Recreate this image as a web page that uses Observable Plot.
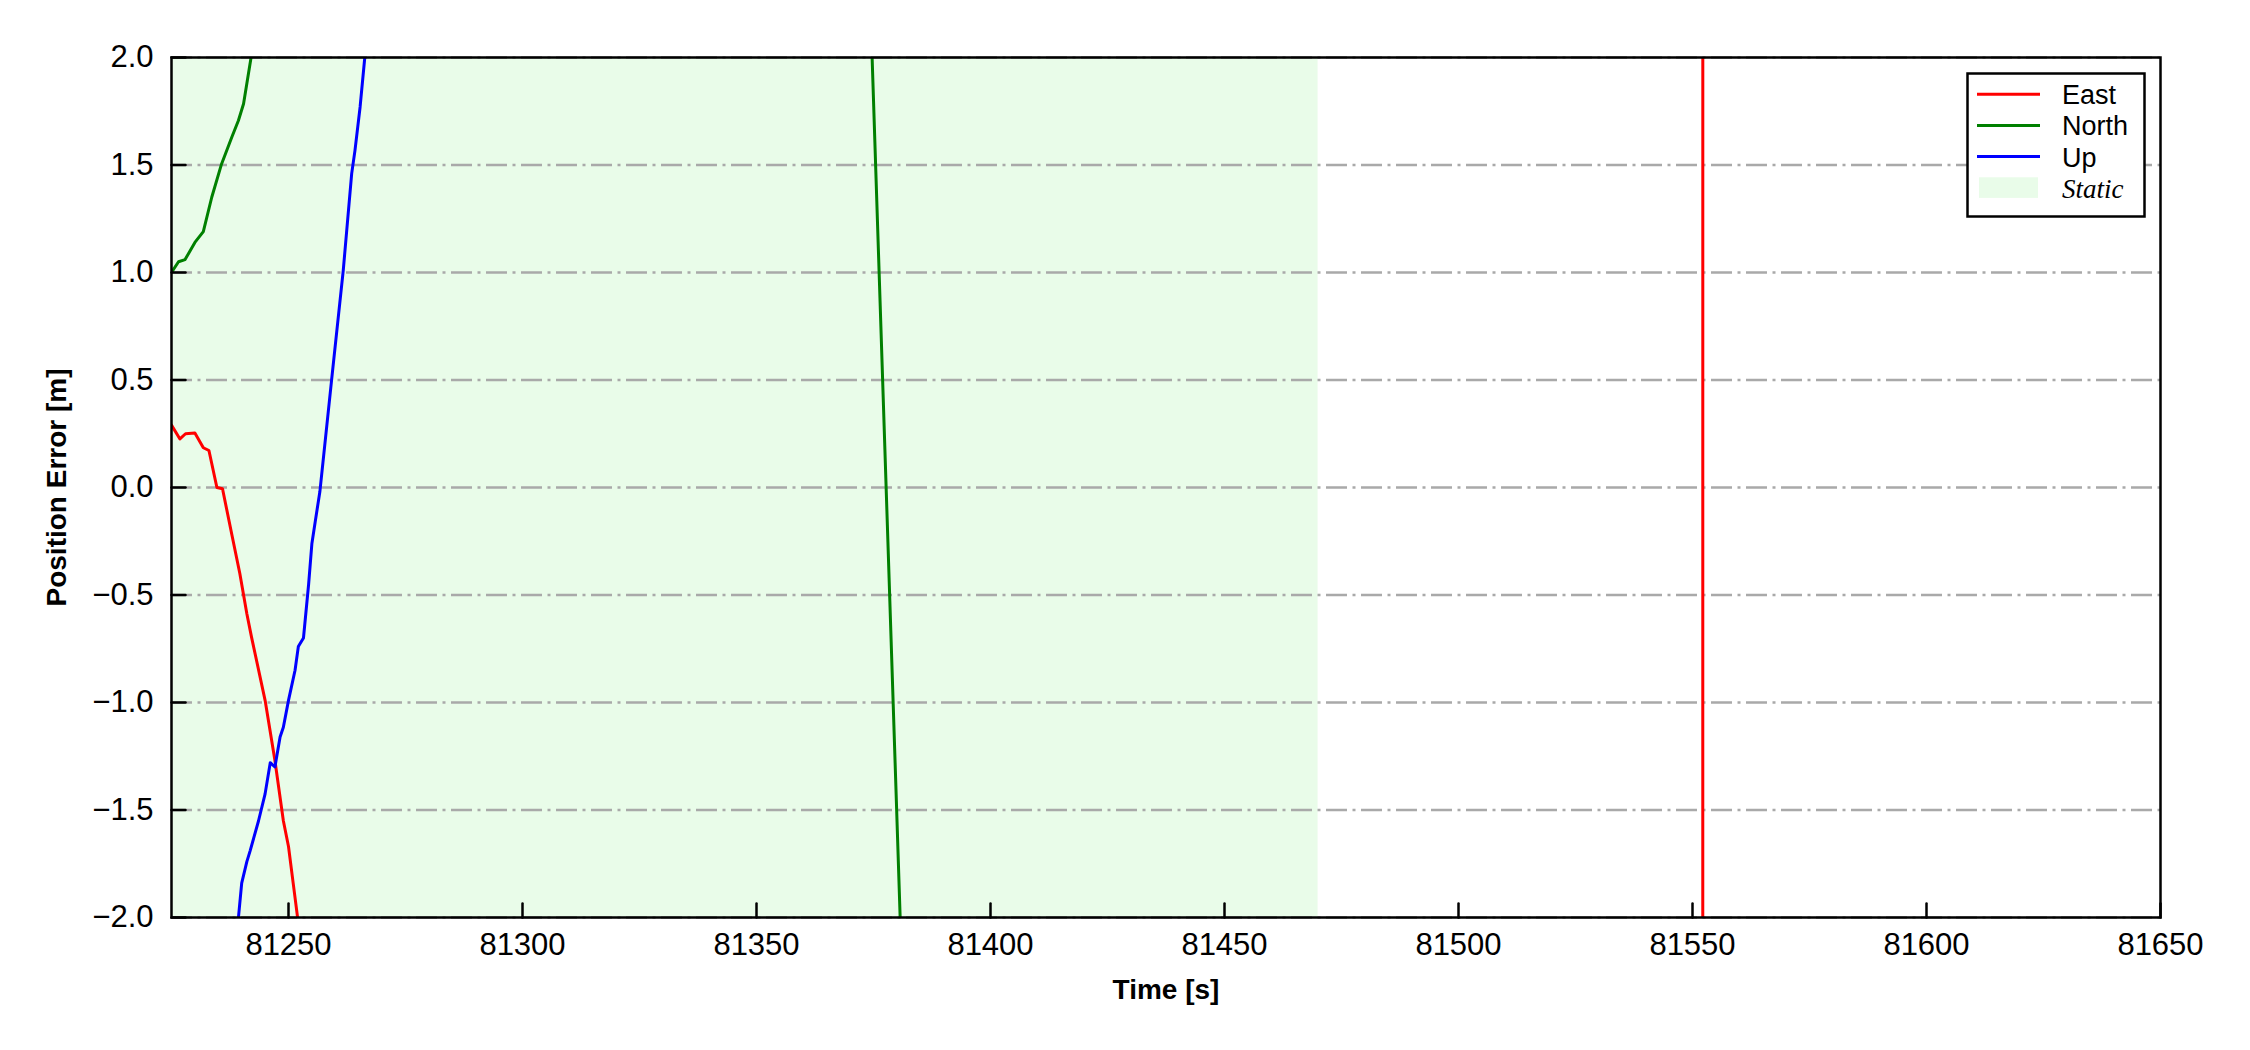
<!DOCTYPE html>
<html><head><meta charset="utf-8">
<script src="https://cdn.jsdelivr.net/npm/d3@7"></script>
<script src="https://cdn.jsdelivr.net/npm/@observablehq/plot@0.6"></script>
<style>
body{margin:0;background:#fff;}
#wrap{position:relative;width:2250px;height:1050px;overflow:hidden;}
#wrap svg{display:block;}
</style></head>
<body><div id="wrap"></div>
<script>
// ---- data ----
const seriesNames = ["East", "North", "Up"];
const seriesColors = ["#ff0000", "#008000", "#0000ff"];

const eastTime  = [81225, 81226.8, 81228, 81230, 81231.8, 81233, 81234.7, 81235.9, 81237.9, 81239.6, 81241.1, 81242.1, 81245, 81247.1, 81248.9, 81250, 81251, 81252, 81256, 81270, 81320, 81400, 81480, 81551.7, 81552.7, 81580, 81620, 81650];
const eastValue = [0.29, 0.226, 0.25, 0.253, 0.185, 0.172, 0.0, -0.006, -0.22, -0.40, -0.587, -0.696, -0.99, -1.27, -1.55, -1.67, -1.84, -2.01, -2.6, -4.1, -9, -20, -45, -300, 300, 260, 230, 210];

const northTime  = [81225, 81226.5, 81227.9, 81230, 81231.8, 81233.6, 81235.7, 81237.9, 81239.3, 81240.4, 81242, 81245, 81260, 81300, 81340, 81365, 81370, 81374, 81378, 81382, 81390, 81420, 81500, 81580, 81650];
const northValue = [1.0, 1.05, 1.06, 1.14, 1.19, 1.35, 1.505, 1.63, 1.707, 1.785, 2.0, 2.5, 4, 7, 8.5, 7.5, 5.13, 2.47, -0.2, -2.87, -7, -15, -30, -38, -42];

const upTime  = [81225, 81232, 81236, 81238, 81240, 81241.1, 81241.8, 81243.6, 81245, 81246.1, 81247.1, 81248.2, 81248.9, 81250, 81251.4, 81252.1, 81253.2, 81254.3, 81255, 81255.7, 81256.7, 81259.2, 81261.7, 81263.5, 81264.2, 81265.3, 81266.3, 81268, 81280, 81350, 81450, 81550, 81650];
const upValue = [-4.5, -3.2, -2.6, -2.3, -1.84, -1.74, -1.69, -1.55, -1.425, -1.28, -1.30, -1.16, -1.115, -0.99, -0.85, -0.74, -0.70, -0.45, -0.26, -0.16, -0.02, 0.498, 1.01, 1.46, 1.567, 1.77, 2.0, 2.6, 5, 12, 18, 22, 25];

const staticStart = 81225;
const staticEnd = 81470;
const staticLabel = "Static";

const xTicks = [81250, 81300, 81350, 81400, 81450, 81500, 81550, 81600, 81650];
const yTicks = [-2.0, -1.5, -1.0, -0.5, 0.0, 0.5, 1.0, 1.5, 2.0];
const xDomain = [81225, 81650];
const yDomain = [-2, 2];
const xLabel = "Time [s]";
const yLabel = "Position Error [m]";

// ---- build table ----
const seriesTimes = [eastTime, northTime, upTime];
const seriesValues = [eastValue, northValue, upValue];
const rows = [];
seriesNames.forEach((name, i) => {
  seriesTimes[i].forEach((t, j) => rows.push({series: name, t, v: seriesValues[i][j]}));
});
const staticSpan = [{x1: staticStart, x2: staticEnd, y1: yDomain[0], y2: yDomain[1]}];

const tickShape = {draw(ctx, l) { ctx.moveTo(0, 0); ctx.lineTo(0, -l); }};

const chart = Plot.plot({
  width: 2250, height: 1050,
  marginLeft: 171, marginRight: 90, marginTop: 57, marginBottom: 133,
  style: {fontFamily: "'Liberation Sans', Arial, sans-serif", fontSize: "31px", color: "#000", background: "#fff"},
  x: {domain: xDomain},
  y: {domain: yDomain},
  color: {domain: seriesNames, range: seriesColors},
  marks: [
    Plot.rect(staticSpan, {x1: "x1", x2: "x2", y1: "y1", y2: "y2", fill: "#e9fce9"}),
    Plot.ruleY(yTicks, {stroke: "#a9a9a9", strokeWidth: 2.5, strokeDasharray: "21,5.5,3,5.5"}),
    Plot.line(rows, {x: "t", y: "v", z: "series", stroke: "series", strokeWidth: 3, clip: true}),
    Plot.vector(xTicks, {x: d => d, frameAnchor: "bottom", length: 14, anchor: "start", rotate: 0, shape: tickShape, stroke: "#000", strokeWidth: 2.5}),
    Plot.vector(yTicks, {y: d => d, frameAnchor: "left", length: 14, anchor: "start", rotate: 90, shape: tickShape, stroke: "#000", strokeWidth: 2.5}),
    Plot.frame({stroke: "#000", strokeWidth: 2.5}),
    Plot.axisX({ticks: xTicks, tickSize: 0, tickPadding: 15, tickFormat: d3.format("d"), label: null, fontSize: 31}),
    Plot.axisY({ticks: yTicks, tickSize: 0, tickPadding: 18, tickFormat: d3.format(".1f"), label: null, fontSize: 31}),
    Plot.text([xLabel], {text: d => d, frameAnchor: "bottom", dy: 81, lineAnchor: "bottom", textAnchor: "middle", fontWeight: "bold", fontSize: 28}),
    Plot.text([yLabel], {text: d => d, frameAnchor: "left", dx: -106, rotate: -90, lineAnchor: "bottom", textAnchor: "middle", fontWeight: "bold", fontSize: 28})
  ]
});
document.getElementById("wrap").appendChild(chart);

// ---- legend (overlay, top-right inside plot) ----
const leg = d3.select("#wrap").append("svg")
  .attr("width", 2250).attr("height", 1050)
  .style("position", "absolute").style("left", "0px").style("top", "0px")
  .style("pointer-events", "none");
leg.append("rect").attr("x", 1967.5).attr("y", 73.5).attr("width", 177).attr("height", 143)
  .attr("fill", "#fff").attr("stroke", "#000").attr("stroke-width", 2.5);
const rowY0 = 94.3, rowStep = 31.1;
seriesNames.forEach((name, i) => {
  const y = rowY0 + i * rowStep;
  leg.append("line").attr("x1", 1977).attr("x2", 2040).attr("y1", y).attr("y2", y)
    .attr("stroke", seriesColors[i]).attr("stroke-width", 3);
  leg.append("text").attr("x", 2062).attr("y", y + 10)
    .attr("font-family", "'Liberation Sans', Arial, sans-serif").attr("font-size", 27).attr("fill", "#000")
    .text(name);
});
{
  const y = rowY0 + 3 * rowStep;
  leg.append("rect").attr("x", 1979).attr("y", y - 10.3).attr("width", 59).attr("height", 20.6).attr("fill", "#e9fce9");
  leg.append("text").attr("x", 2062).attr("y", y + 10.7)
    .attr("font-family", "'Liberation Serif', 'Times New Roman', serif").attr("font-style", "italic")
    .attr("font-size", 27).attr("fill", "#000").text(staticLabel);
}
</script>
</body></html>
